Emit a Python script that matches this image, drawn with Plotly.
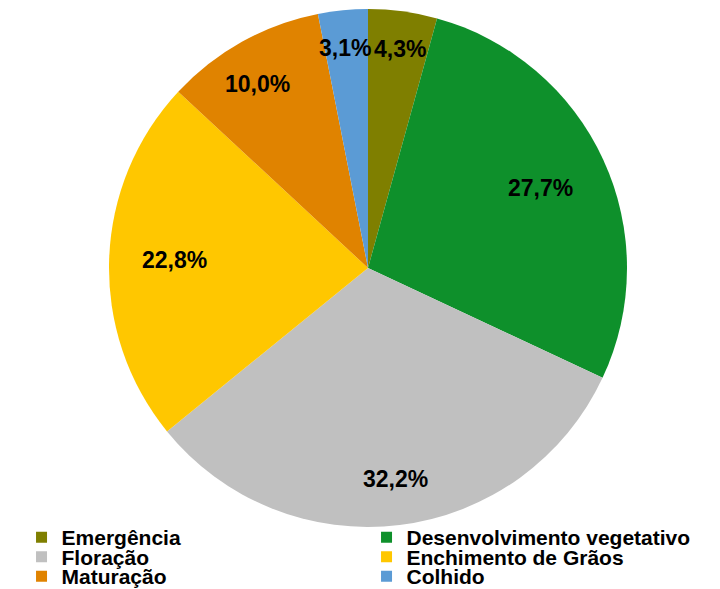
import math
import plotly.graph_objects as go

labels = ["Emergência", "Desenvolvimento vegetativo", "Floração",
          "Enchimento de Grãos", "Maturação", "Colhido"]
values = [4.3, 27.7, 32.2, 22.8, 10.0, 3.1]
colors = ["#7f7f00", "#0e902b", "#c0c0c0", "#ffc700", "#e08300", "#5b9bd5"]

# the page body adds an 8px margin; figure coordinates = page coordinates - 8
W, H = 712, 589
OFF = 8
cx, cy, r = 368 - OFF, 268 - OFF, 259
FONT = "Arial, Liberation Sans, sans-serif"

fig = go.Figure()
fig.add_trace(go.Pie(
    labels=labels,
    values=values,
    sort=False,
    direction="clockwise",
    rotation=0,
    marker=dict(colors=colors, line=dict(width=0)),
    textinfo="none",
    domain=dict(x=[(cx - r) / W, (cx + r) / W], y=[1 - (cy + r) / H, 1 - (cy - r) / H]),
    hoverinfo="label+value",
    showlegend=False,
))

# percentage labels placed along each slice's bisector
total = sum(values)
cum = 0.0
for lab, v in zip(labels, values):
    mid = (cum + v / 2) / total * 2 * math.pi
    cum += v
    k = 0.88 if v >= 5 else 0.91
    px = cx + k * r * math.sin(mid)
    py = cy - k * r * math.cos(mid)
    fig.add_annotation(
        x=px / W, y=1 - py / H, xref="paper", yref="paper",
        text=f"{v:.1f}%".replace(".", ","), showarrow=False,
        font=dict(family=FONT, size=23, color="black", weight="bold"),
    )

# legend: three rows of two entries (bottom-anchored)
row_bottom = [39 / H, 19.5 / H, 0.0]
for i, (lab, col) in enumerate(zip(labels, colors)):
    row = i // 2
    lg = "legend" if row == 0 else f"legend{row + 1}"
    fig.add_trace(go.Scatter(
        x=[None], y=[None], mode="markers",
        marker=dict(symbol="square", size=11, color=col),
        name=lab, legend=lg, hoverinfo="skip",
    ))

leg_common = dict(
    orientation="h", x=0.019, xanchor="left", yanchor="bottom",
    entrywidth=300, entrywidthmode="pixels",
    font=dict(family=FONT, size=21, color="black", weight="bold"),
    bgcolor="rgba(0,0,0,0)", traceorder="normal",
)

fig.update_layout(
    width=W, height=H,
    margin=dict(l=0, r=0, t=0, b=0),
    paper_bgcolor="white", plot_bgcolor="white",
    showlegend=True,
    xaxis=dict(visible=False), yaxis=dict(visible=False),
    legend=dict(y=row_bottom[0], **leg_common),
    legend2=dict(y=row_bottom[1], **leg_common),
    legend3=dict(y=row_bottom[2], **leg_common),
)

fig.write_html("out.html")
